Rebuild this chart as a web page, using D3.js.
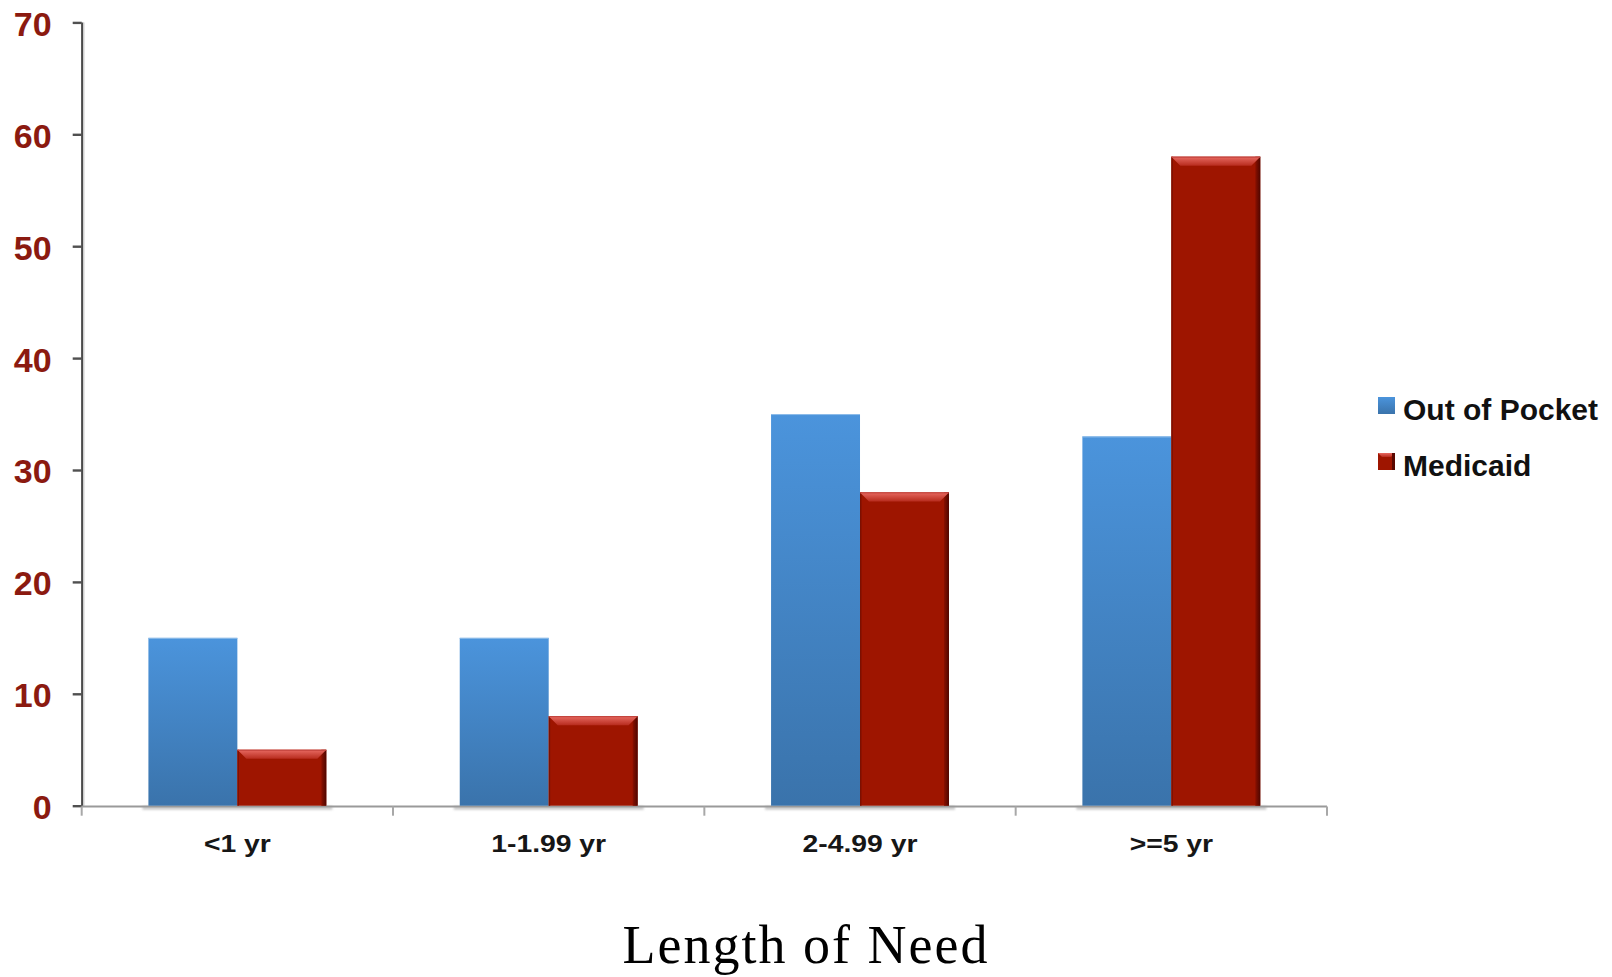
<!DOCTYPE html>
<html>
<head>
<meta charset="utf-8">
<script src="https://cdn.jsdelivr.net/npm/d3@7"></script>
<style>
  html, body { margin: 0; padding: 0; background: #fff; }
  svg { display: block; }
</style>
</head>
<body>
<svg id="chart" width="1612" height="977"></svg>
<script>
// Length of need by payer
const categories = ["<1 yr", "1-1.99 yr", "2-4.99 yr", ">=5 yr"];
const seriesNames = ["Out of Pocket", "Medicaid"];
const outOfPocket = [15, 15, 35, 33];
const medicaid = [5, 8, 28, 58];
const yTicks = [0, 10, 20, 30, 40, 50, 60, 70];
const xTitle = "Length of Need";

(function draw() {
const rows = categories.map((c, i) => ({ cat: c, values: [outOfPocket[i], medicaid[i]] }));

const svg = d3.select("#chart");
const W = 1612;
const plotLeft = 81.7, plotRight = 1327, plotTop = 22.4, plotBottom = 805.7;

const y = d3.scaleLinear().domain([0, 70]).range([plotBottom, plotTop]);
const x0 = d3.scaleBand().domain(categories).range([plotLeft, plotRight]).padding(0);
const x1 = d3.scaleBand().domain(seriesNames).range([0, x0.bandwidth()])
  .paddingInner(0).paddingOuter(0.75);

// gradients
const defs = svg.append("defs");
const blueGrad = defs.append("linearGradient").attr("id", "blueGrad")
  .attr("x1", 0).attr("y1", 0).attr("x2", 0).attr("y2", 1);
blueGrad.append("stop").attr("offset", "0%").attr("stop-color", "#4b94dc");
blueGrad.append("stop").attr("offset", "100%").attr("stop-color", "#3a73ab");

const bevelGrad = defs.append("linearGradient").attr("id", "bevelGrad")
  .attr("x1", 0).attr("y1", 0).attr("x2", 0).attr("y2", 1);
bevelGrad.append("stop").attr("offset", "0%").attr("stop-color", "#e86a62");
bevelGrad.append("stop").attr("offset", "100%").attr("stop-color", "#b82c1e");

const edgeGrad = defs.append("linearGradient").attr("id", "edgeGrad")
  .attr("x1", 0).attr("y1", 0).attr("x2", 1).attr("y2", 0);
edgeGrad.append("stop").attr("offset", "0%").attr("stop-color", "#8a1000");
edgeGrad.append("stop").attr("offset", "100%").attr("stop-color", "#4e0600");

const blur = defs.append("filter").attr("id", "soft").attr("x", "-10%").attr("y", "-100%")
  .attr("width", "120%").attr("height", "300%");
blur.append("feGaussianBlur").attr("stdDeviation", 1.2);

// soft ground shadow under each group
svg.append("g").selectAll("rect")
  .data(rows)
  .join("rect")
  .attr("x", d => x0(d.cat) + x1(seriesNames[0]) - 6)
  .attr("y", plotBottom + 0.5)
  .attr("width", x1.bandwidth() * 2 + 12)
  .attr("height", 3.5)
  .attr("fill", "#c8c8c8")
  .attr("filter", "url(#soft)");

// y axis
const yAxis = d3.axisLeft(y).tickValues(yTicks).tickSize(9).tickPadding(21);
const gy = svg.append("g").attr("transform", `translate(${plotLeft},0)`).call(yAxis);
gy.select(".domain").attr("stroke", "#4a4a4a").attr("stroke-width", 2.2)
  .attr("d", `M0.5,${plotTop}V${plotBottom + 1}`);
gy.selectAll(".tick line").attr("stroke", "#505050").attr("stroke-width", 2.4);
gy.selectAll(".tick text")
  .attr("fill", "#8b1a10")
  .attr("font-family", "Liberation Sans, Arial, sans-serif")
  .attr("font-weight", "bold")
  .attr("font-size", 34)
  .attr("dy", "0.38em");
// light halo next to the y axis line
svg.append("line").attr("x1", plotLeft + 2.2).attr("x2", plotLeft + 2.2)
  .attr("y1", plotTop).attr("y2", plotBottom)
  .attr("stroke", "#d0d0d0").attr("stroke-width", 1.2);

// x axis baseline and boundary ticks
const gx = svg.append("g");
gx.append("line")
  .attr("x1", plotLeft).attr("x2", plotRight)
  .attr("y1", plotBottom + 0.8).attr("y2", plotBottom + 0.8)
  .attr("stroke", "#9a9a9a").attr("stroke-width", 2.2);
const bounds = categories.map(c => x0(c)).concat([x0.range()[1]]);
gx.selectAll("line.tick")
  .data(bounds)
  .join("line")
  .attr("class", "tick")
  .attr("x1", d => d).attr("x2", d => d)
  .attr("y1", plotBottom + 0.8).attr("y2", plotBottom + 10)
  .attr("stroke", "#a8a8a8").attr("stroke-width", 2);

// category labels (wide bold face)
gx.selectAll("text")
  .data(categories)
  .join("text")
  .attr("transform", d => `translate(${x0(d) + x0.bandwidth() / 2},852) scale(1.18,1)`)
  .attr("text-anchor", "middle")
  .attr("font-family", "Liberation Sans, Arial, sans-serif")
  .attr("font-weight", "bold")
  .attr("font-size", 24)
  .attr("fill", "#161616")
  .text(d => d);

// bars
const groups = svg.append("g").selectAll("g")
  .data(rows)
  .join("g")
  .attr("transform", d => `translate(${x0(d.cat)},0)`);

// Out of Pocket: flat gradient bars
groups.append("rect")
  .attr("x", x1(seriesNames[0]))
  .attr("y", d => y(d.values[0]))
  .attr("width", x1.bandwidth())
  .attr("height", d => y(0) - y(d.values[0]))
  .attr("fill", "url(#blueGrad)");
groups.append("line")
  .attr("x1", x1(seriesNames[0])).attr("x2", x1(seriesNames[0]) + x1.bandwidth())
  .attr("y1", d => y(d.values[0]) + 0.5).attr("y2", d => y(d.values[0]) + 0.5)
  .attr("stroke", "#8fbde9").attr("stroke-width", 1);

// Medicaid: bevelled bars
const bw = x1.bandwidth();
const mx = x1(seriesNames[1]);
const bevel = 9;
groups.append("rect")
  .attr("x", mx)
  .attr("y", d => y(d.values[1]))
  .attr("width", bw)
  .attr("height", d => y(0) - y(d.values[1]))
  .attr("fill", "#9e1500");
groups.append("rect")
  .attr("x", mx + bw - 5)
  .attr("y", d => y(d.values[1]))
  .attr("width", 5)
  .attr("height", d => y(0) - y(d.values[1]))
  .attr("fill", "url(#edgeGrad)");
groups.append("rect")
  .attr("x", mx)
  .attr("y", d => y(d.values[1]))
  .attr("width", 1.5)
  .attr("height", d => y(0) - y(d.values[1]))
  .attr("fill", "#7d1000");
groups.append("path")
  .attr("d", d => {
    const t = y(d.values[1]);
    return `M${mx},${t}L${mx + bw},${t}L${mx + bw - bevel},${t + bevel}L${mx + bevel},${t + bevel}Z`;
  })
  .attr("fill", "url(#bevelGrad)");
groups.append("line")
  .attr("x1", mx).attr("x2", mx + bw)
  .attr("y1", d => y(d.values[1]) + 0.5).attr("y2", d => y(d.values[1]) + 0.5)
  .attr("stroke", "#c0403a").attr("stroke-width", 1);

// legend
const legend = svg.append("g").attr("transform", "translate(1378,397)");
const items = legend.selectAll("g")
  .data(seriesNames)
  .join("g")
  .attr("transform", (d, i) => `translate(0,${i * 56})`);
items.append("rect")
  .attr("width", 17).attr("height", 17)
  .attr("fill", (d, i) => i === 0 ? "url(#blueGrad)" : "#9e1500");
items.filter((d, i) => i === 1).append("path")
  .attr("d", "M0,0L17,0L13,4L4,4Z")
  .attr("fill", "url(#bevelGrad)");
items.filter((d, i) => i === 1).append("rect")
  .attr("x", 14).attr("width", 3).attr("height", 17).attr("fill", "#5a0800");
items.append("text")
  .attr("x", 25)
  .attr("y", 23)
  .attr("font-family", "Liberation Sans, Arial, sans-serif")
  .attr("font-weight", "bold")
  .attr("font-size", 30)
  .attr("fill", "#111")
  .text(d => d);

// x axis title
svg.append("text")
  .attr("x", W / 2)
  .attr("y", 963)
  .attr("text-anchor", "middle")
  .attr("font-family", "Liberation Serif, 'Times New Roman', serif")
  .attr("font-size", 54)
  .attr("letter-spacing", 2)
  .attr("fill", "#000")
  .text(xTitle);
})();
</script>
</body>
</html>
